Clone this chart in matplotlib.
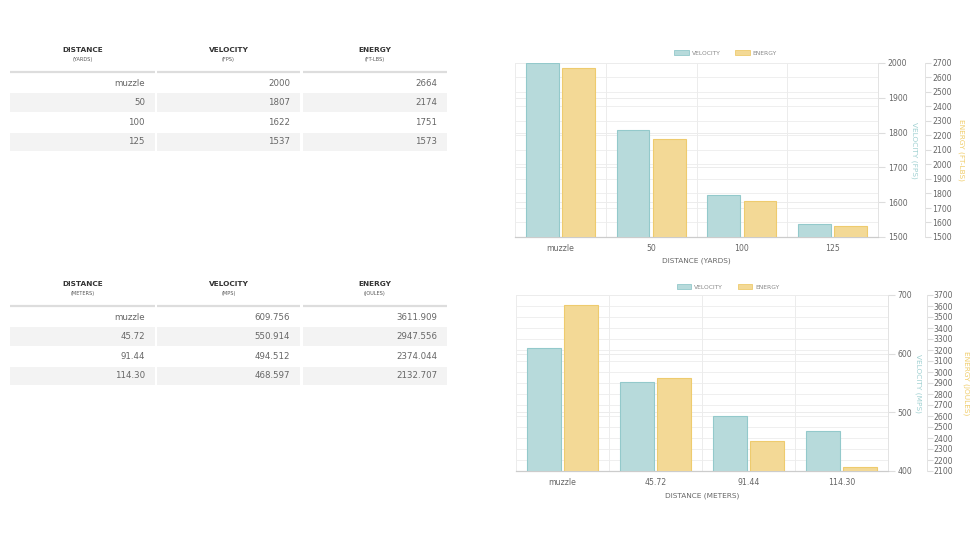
import matplotlib
matplotlib.use("Agg")
import matplotlib.pyplot as plt
from matplotlib.patches import Patch, Rectangle
import numpy as np

plt.rcParams["font.family"] = ["DejaVu Sans"]

# --- data -------------------------------------------------------------
yard_labels = ["muzzle", "50", "100", "125"]
velocity_fps = [2000, 1807, 1622, 1537]
energy_ftlbs = [2664, 2174, 1751, 1573]

meter_labels = ["muzzle", "45.72", "91.44", "114.30"]
velocity_mps = [609.756, 550.914, 494.512, 468.597]
energy_joules = [3611.909, 2947.556, 2374.044, 2132.707]

VEL_FILL, VEL_EDGE = "#b7dadb", "#93c9cb"
EN_FILL, EN_EDGE = "#f3d996", "#eecb6e"
VEL_TEXT, EN_TEXT = "#9fd0d1", "#f0cd6a"
GRID = "#ececec"
TXT = "#666666"

W, H = 978, 550
fig = plt.figure(figsize=(W / 100, H / 100), dpi=100)

# --- tables (pixel coordinates on a full-figure axes) -------------------
tab = fig.add_axes([0, 0, 1, 1])
tab.set_xlim(0, W)
tab.set_ylim(H, 0)
tab.axis("off")

cols = [(10, 155), (157, 300), (303, 447)]


def draw_table(y0, units, labels, vel, en, fmt):
    heads = ["DISTANCE", "VELOCITY", "ENERGY"]
    for (x0, x1), h, u in zip(cols, heads, units):
        cx = (x0 + x1) / 2
        tab.text(cx, y0, h, ha="center", va="center", fontsize=5.3,
                 fontweight="bold", color="#333333")
        tab.text(cx, y0 + 10, u, ha="center", va="center", fontsize=3.6,
                 color="#555555")
        tab.plot([x0, x1], [y0 + 22, y0 + 22], color="#dddddd", lw=1.6,
                 solid_capstyle="butt")
    for i, (lab, v, e) in enumerate(zip(labels, vel, en)):
        yc = y0 + 33 + i * 19.6
        if i % 2 == 1:
            for x0, x1 in cols:
                tab.add_patch(Rectangle((x0, yc - 9.2), x1 - x0, 18.4,
                                        facecolor="#f3f3f3", edgecolor="none"))
        for (x0, x1), s in zip(cols, [lab, fmt(v), fmt(e)]):
            tab.text(x1 - 10, yc, s, ha="right", va="center", fontsize=6.2,
                     color=TXT)


draw_table(50, ["(YARDS)", "(FPS)", "(FT-LBS)"], yard_labels,
           velocity_fps, energy_ftlbs, lambda x: f"{x:d}")
draw_table(284, ["(METERS)", "(MPS)", "(JOULES)"], meter_labels,
           velocity_mps, energy_joules, lambda x: f"{x:.3f}")


# --- charts -----------------------------------------------------------
def draw_chart(box, labels, vel, en, vlim, vstep, elim, xlabel, vlabel,
               elabel, e_offset, legend_x, legend_y, vlab_x, elab_x):
    l, t, r, b = box
    ax = fig.add_axes([l / W, (H - b) / H, (r - l) / W, (b - t) / H])
    ax2 = ax.twinx()
    ax.set_zorder(ax2.get_zorder() + 1)
    ax.patch.set_visible(False)

    x = np.arange(len(labels))
    ax.bar(x - 0.2, vel, width=0.36, color=VEL_FILL, edgecolor=VEL_EDGE,
           linewidth=0.8, zorder=3)
    ax.bar(x + 0.2, en, width=0.36, color=EN_FILL, edgecolor=EN_EDGE,
           linewidth=0.8, zorder=3, transform=ax2.transData)

    ax.set_xlim(-0.5, len(labels) - 0.5)
    ax.set_ylim(*vlim)
    ax2.set_ylim(*elim)

    ax.set_xticks(x)
    ax.set_xticklabels(labels)
    ax.set_xticks(np.arange(-0.5, len(labels)), minor=True)
    ax.xaxis.grid(True, which="minor", color=GRID, lw=0.7)
    ax.tick_params(axis="x", which="major", length=0, pad=5, labelsize=5.6,
                   labelcolor=TXT)
    ax.tick_params(axis="x", which="minor", length=0)

    ax.yaxis.tick_right()
    ax.set_yticks(np.arange(vlim[0], vlim[1] + 1, vstep))
    ax.tick_params(axis="y", length=5, color="#dddddd", labelsize=5.6,
                   labelcolor=TXT, pad=2)
    ax.yaxis.grid(True, color=GRID, lw=0.7, zorder=0)

    ax2.set_yticks(np.arange(elim[0], elim[1] + 1, 100))
    ax2.tick_params(axis="y", length=4, color="#dddddd", labelsize=5.6,
                    labelcolor=TXT, pad=1)
    ax2.yaxis.grid(True, color=GRID, lw=0.6)
    ax2.spines["right"].set_position(("outward", e_offset))

    for a in (ax, ax2):
        for s in ("top", "left"):
            a.spines[s].set_visible(False)
        a.spines["right"].set_color("#e3e3e3")
        a.spines["right"].set_linewidth(0.7)
    ax.spines["bottom"].set_color("#cccccc")
    ax.spines["bottom"].set_linewidth(0.9)
    ax2.spines["bottom"].set_visible(False)

    ax.set_xlabel(xlabel, fontsize=5.3, color=TXT)
    ax.xaxis.set_label_coords(0.5, -0.12)
    ax.set_ylabel(vlabel, fontsize=5.3, color=VEL_TEXT, rotation=-90)
    ax.yaxis.set_label_position("right")
    ax.yaxis.set_label_coords(vlab_x, 0.5)
    ax.yaxis.label.set_va("center")
    ax2.set_ylabel(elabel, fontsize=5.3, color=EN_TEXT, rotation=-90)
    ax2.yaxis.set_label_coords(elab_x, 0.5)
    ax2.yaxis.label.set_va("center")

    handles = [Patch(facecolor=VEL_FILL, edgecolor=VEL_EDGE, lw=0.6),
               Patch(facecolor=EN_FILL, edgecolor=EN_EDGE, lw=0.6)]
    ax.legend(handles, ["VELOCITY", "ENERGY"], loc="center",
              bbox_to_anchor=(legend_x, legend_y), ncol=2, frameon=False,
              fontsize=4.3, handlelength=2.4, handleheight=0.8,
              handletextpad=0.5, columnspacing=2.5, labelcolor="#888888")
    return ax


draw_chart((515, 63, 878, 237), yard_labels, velocity_fps, energy_ftlbs,
           (1500, 2000), 100, (1500, 2700), "DISTANCE (YARDS)",
           "VELOCITY (FPS)", "ENERGY (FT-LBS)", 34, 0.58, 1.057, 1.10, 1.23)
draw_chart((516, 295, 888, 471), meter_labels, velocity_mps, energy_joules,
           (400, 700), 100, (2100, 3700), "DISTANCE (METERS)",
           "VELOCITY (MPS)", "ENERGY (JOULES)", 28, 0.57, 1.045, 1.08, 1.21)

fig.savefig("out.png", dpi=100)
